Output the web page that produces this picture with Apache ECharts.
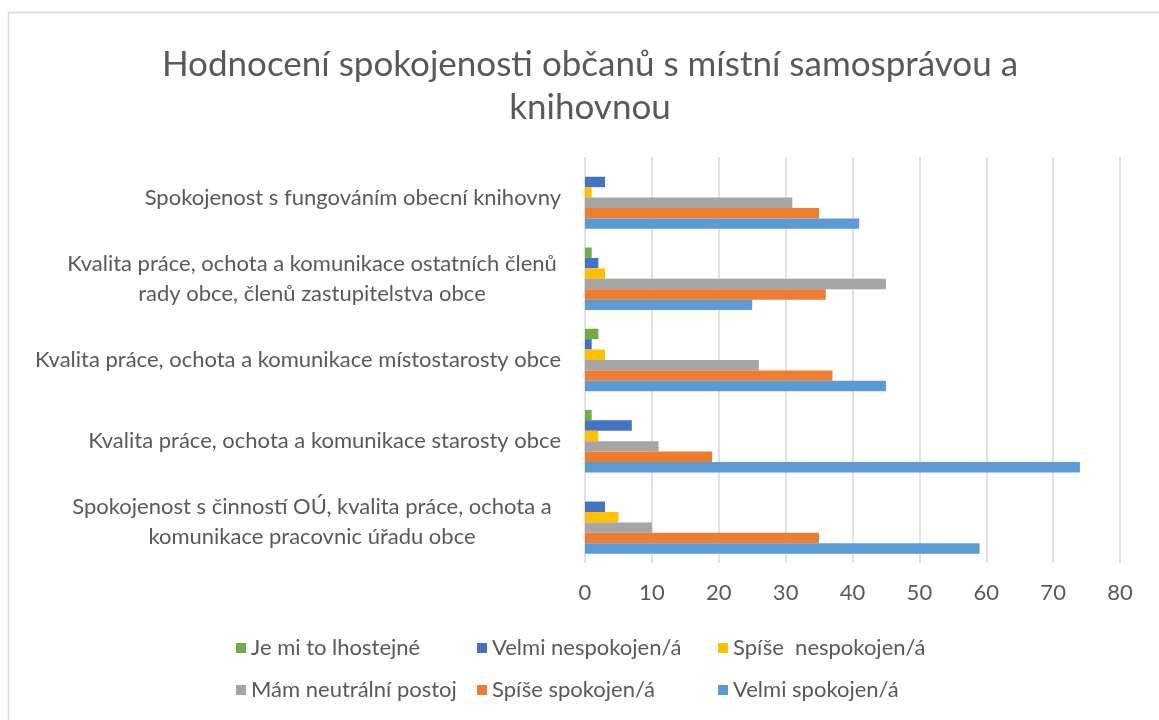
<!DOCTYPE html>
<html>
<head>
<meta charset="utf-8">
<script src="https://cdn.jsdelivr.net/npm/echarts@6/dist/echarts.min.js"></script>
<style>
  html, body { margin: 0; padding: 0; background: #fff; }
  #chart { width: 1159px; height: 720px; }
</style>
</head>
<body>
<div id="chart"></div>
<script>
const categories = [
  'Spokojenost s fungováním obecní knihovny',
  'Kvalita práce, ochota a komunikace ostatních členů\nrady obce, členů zastupitelstva obce',
  'Kvalita práce, ochota a komunikace místostarosty obce',
  'Kvalita práce, ochota a komunikace starosty obce',
  'Spokojenost s činností OÚ, kvalita práce, ochota a\nkomunikace pracovnic úřadu obce'
]
const seriesNames = [
  'Je mi to lhostejné',
  'Velmi nespokojen/á',
  'Spíše  nespokojen/á',
  'Mám neutrální postoj',
  'Spíše spokojen/á',
  'Velmi spokojen/á'
]
const lhostejne = [0, 1, 2, 1, 0]
const velmiNespokojen = [3, 2, 1, 7, 3]
const spiseNespokojen = [1, 3, 3, 2, 5]
const neutralni = [31, 45, 26, 11, 10]
const spiseSpokojen = [35, 36, 37, 19, 35]
const velmiSpokojen = [41, 25, 45, 74, 59]
const xTicks = [0, 80, 10]

const colors = ['#70AD47', '#4472C4', '#FFC000', '#A5A5A5', '#ED7D31', '#5B9BD5']
const values = [lhostejne, velmiNespokojen, spiseNespokojen, neutralni, spiseSpokojen, velmiSpokojen]
const textColor = '#595959'
const font = 'Lato, "Noto Sans", sans-serif'

const chart = echarts.init(document.getElementById('chart'), null, { renderer: 'canvas' })

chart.setOption({
  animation: false,
  backgroundColor: '#fff',
  color: colors,
  graphic: [{
    type: 'rect',
    shape: { x: 8.5, y: 12.5, width: 1170, height: 730 },
    style: { fill: 'none', stroke: '#d9d9d9', lineWidth: 1.5 },
    silent: true
  }],
  title: {
    text: 'Hodnocení spokojenosti občanů s místní samosprávou a\nknihovnou',
    left: 585,
    top: 38,
    textAlign: 'center',
    textStyle: {
      color: textColor,
      fontFamily: font,
      fontWeight: 'normal',
      fontSize: 35,
      lineHeight: 43
    }
  },
  legend: {
    data: seriesNames,
    left: 236,
    top: 627,
    width: 730,
    padding: 0,
    itemGap: 0,
    itemWidth: 10,
    itemHeight: 10,
    itemStyle: { borderWidth: 0 },
    icon: 'rect',
    textStyle: {
      color: textColor,
      fontFamily: font,
      fontSize: 22,
      lineHeight: 42,
      width: 226,
      overflow: 'truncate'
    }
  },
  grid: {
    left: 585,
    right: 39,
    top: 157,
    bottom: 157,
    containLabel: false
  },
  xAxis: {
    type: 'value',
    min: xTicks[0],
    max: xTicks[1],
    interval: xTicks[2],
    axisLine: { show: false },
    axisTick: { show: false },
    splitLine: { lineStyle: { color: '#d9d9d9', width: 1.5 } },
    axisLabel: {
      color: textColor,
      fontFamily: font,
      fontSize: 22,
      margin: 19
    }
  },
  yAxis: {
    type: 'category',
    inverse: true,
    data: categories,
    axisLine: { show: false },
    axisTick: { show: false },
    axisLabel: {
      color: textColor,
      fontFamily: font,
      fontSize: 22,
      margin: 24,
      lineHeight: 30,
      formatter: function (v) {
        if (v.indexOf('\n') < 0) return v
        return v.split('\n').map(l => '{c|' + l + '}').join('\n')
      },
      rich: {
        c: {
          width: 498,
          align: 'center',
          color: textColor,
          fontFamily: font,
          fontSize: 22,
          lineHeight: 30
        }
      }
    }
  },
  series: seriesNames.map((name, i) => ({
    name: name,
    type: 'bar',
    data: values[i],
    barGap: '0%',
    barCategoryGap: '23%',
    itemStyle: { color: colors[i] }
  }))
})
</script>
</body>
</html>
